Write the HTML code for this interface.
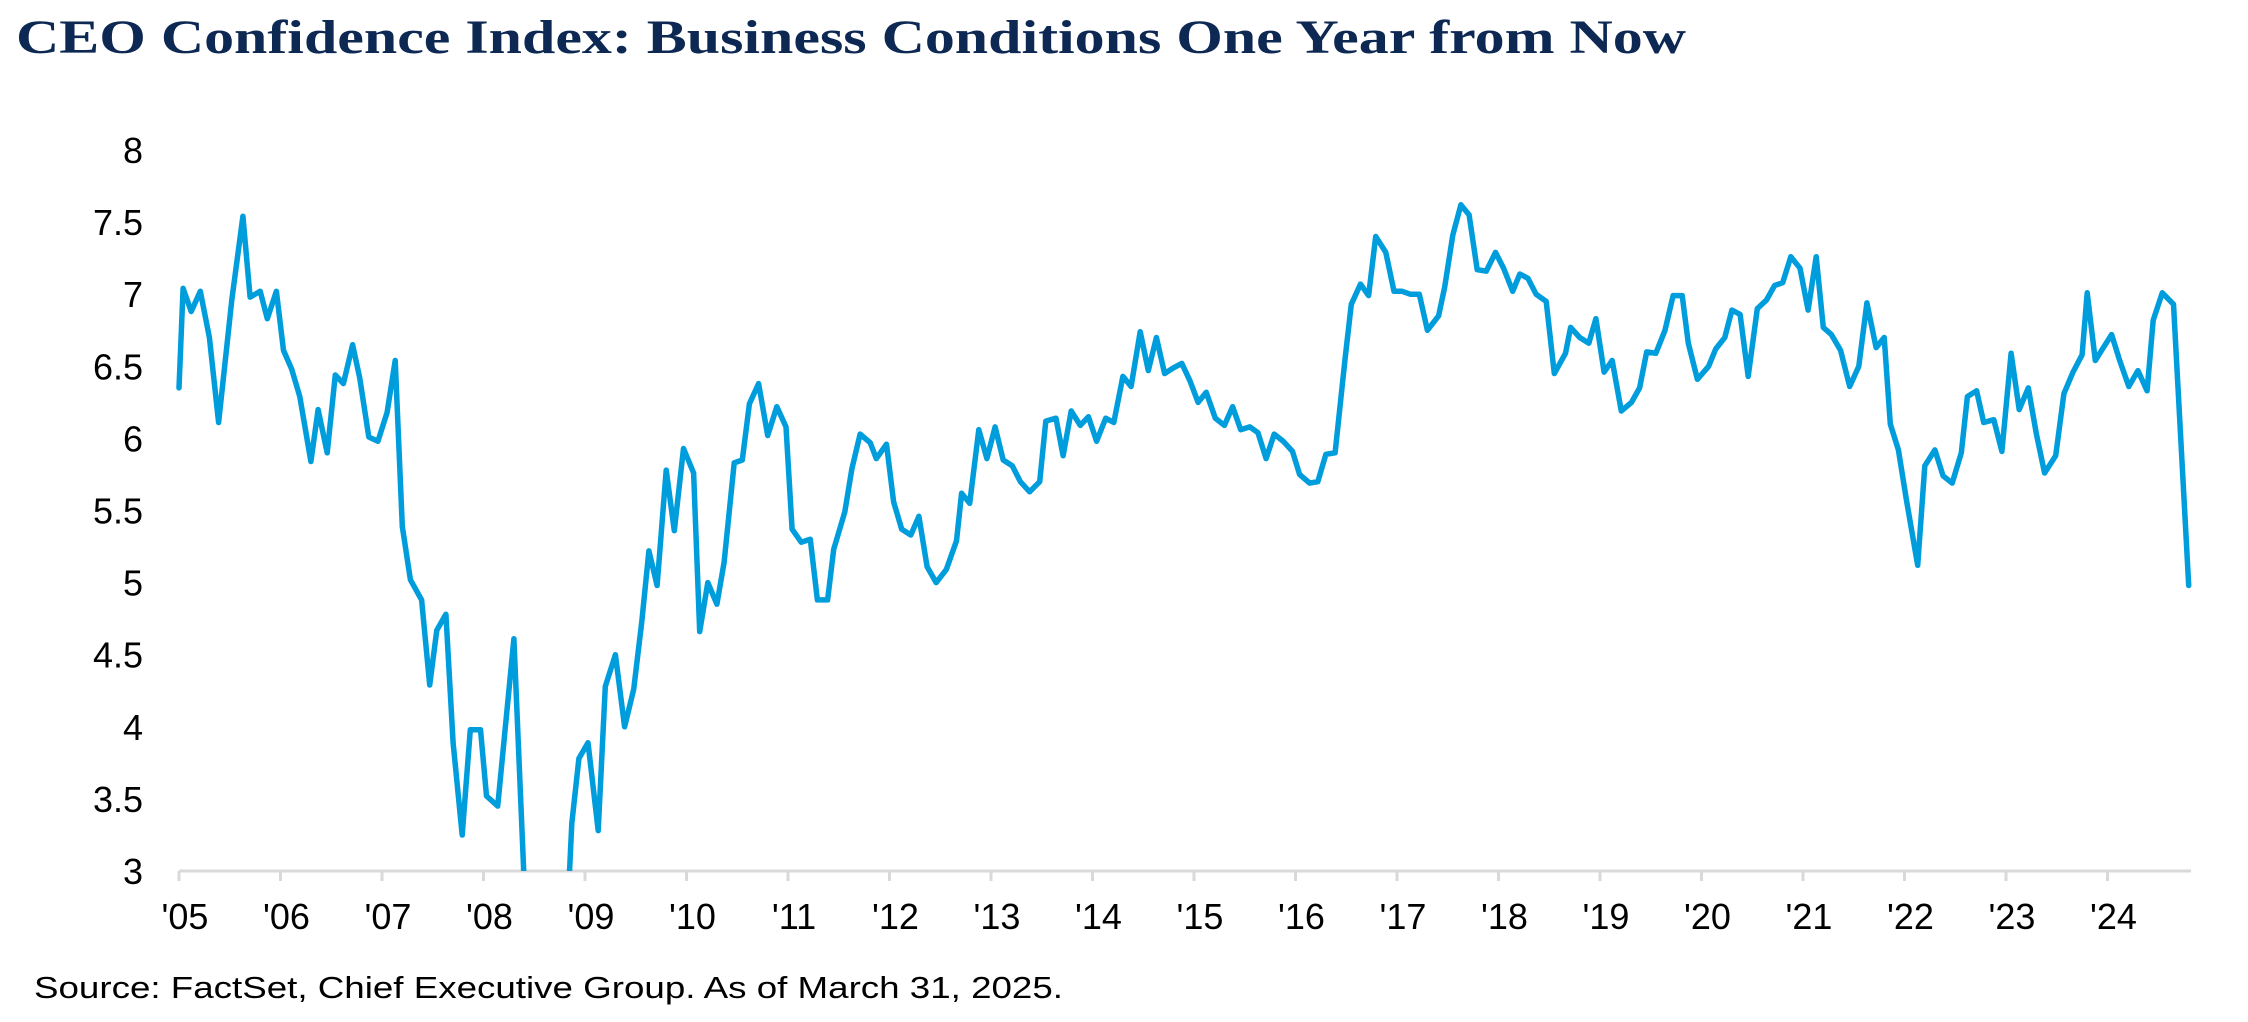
<!DOCTYPE html>
<html><head><meta charset="utf-8"><title>CEO Confidence Index</title>
<style>html,body{margin:0;padding:0;background:#fff;}svg{display:block;}</style></head>
<body>
<svg id="chart" width="2248" height="1022" viewBox="0 0 2248 1022" xmlns="http://www.w3.org/2000/svg">
<defs><clipPath id="plotclip"><rect x="170" y="100" width="2040" height="771"/></clipPath></defs>
<text x="16" y="53" font-family="Liberation Serif, serif" font-weight="bold" font-size="48" fill="#0c2853" textLength="1670" lengthAdjust="spacingAndGlyphs">CEO Confidence Index: Business Conditions One Year from Now</text>
<g id="yaxis"></g>
<g id="xaxis"></g>
<g clip-path="url(#plotclip)"><path id="series" fill="none" stroke="#009ddc" stroke-width="5.5" stroke-linejoin="round" stroke-linecap="round"/></g>
<text x="34" y="998" font-family="Liberation Sans, sans-serif" font-size="31" fill="#000" textLength="1029" lengthAdjust="spacingAndGlyphs">Source: FactSet, Chief Executive Group. As of March 31, 2025.</text>
</svg>
<script>
const dates = [2005.00,2005.04,2005.12,2005.21,2005.30,2005.39,2005.52,2005.63,2005.70,2005.80,2005.87,2005.96,2006.03,2006.11,2006.19,2006.30,2006.37,2006.46,2006.54,2006.62,2006.71,2006.78,2006.87,2006.96,2007.05,2007.13,2007.20,2007.28,2007.39,2007.47,2007.54,2007.63,2007.70,2007.79,2007.87,2007.97,2008.03,2008.14,2008.30,2008.45,2008.62,2008.78,2008.87,2008.94,2009.03,2009.13,2009.20,2009.30,2009.39,2009.48,2009.56,2009.63,2009.71,2009.80,2009.88,2009.97,2010.07,2010.13,2010.21,2010.30,2010.37,2010.47,2010.55,2010.62,2010.71,2010.80,2010.89,2010.98,2011.04,2011.13,2011.22,2011.29,2011.39,2011.45,2011.56,2011.63,2011.71,2011.81,2011.87,2011.97,2012.04,2012.12,2012.21,2012.29,2012.37,2012.46,2012.56,2012.66,2012.71,2012.79,2012.88,2012.96,2013.04,2013.12,2013.21,2013.29,2013.38,2013.48,2013.54,2013.64,2013.71,2013.79,2013.88,2013.96,2014.04,2014.13,2014.21,2014.30,2014.38,2014.47,2014.55,2014.63,2014.71,2014.80,2014.88,2014.96,2015.04,2015.12,2015.21,2015.30,2015.38,2015.46,2015.55,2015.63,2015.71,2015.79,2015.88,2015.97,2016.04,2016.14,2016.22,2016.30,2016.39,2016.49,2016.55,2016.64,2016.72,2016.79,2016.89,2016.97,2017.05,2017.13,2017.22,2017.30,2017.41,2017.47,2017.55,2017.63,2017.71,2017.79,2017.88,2017.97,2018.05,2018.14,2018.21,2018.29,2018.37,2018.47,2018.55,2018.66,2018.71,2018.80,2018.89,2018.96,2019.04,2019.12,2019.21,2019.31,2019.39,2019.46,2019.55,2019.64,2019.72,2019.81,2019.87,2019.96,2020.07,2020.14,2020.23,2020.30,2020.38,2020.46,2020.55,2020.64,2020.72,2020.80,2020.88,2020.97,2021.05,2021.13,2021.20,2021.28,2021.37,2021.46,2021.55,2021.63,2021.72,2021.80,2021.86,2021.94,2022.02,2022.13,2022.20,2022.30,2022.38,2022.47,2022.56,2022.62,2022.71,2022.78,2022.88,2022.96,2023.05,2023.13,2023.22,2023.30,2023.38,2023.49,2023.57,2023.66,2023.75,2023.80,2023.88,2023.96,2024.04,2024.12,2024.21,2024.30,2024.39,2024.45,2024.54,2024.65,2024.80];
const values = [6.35,7.04,6.88,7.02,6.70,6.11,6.96,7.54,6.98,7.02,6.83,7.02,6.61,6.48,6.29,5.84,6.20,5.90,6.44,6.38,6.65,6.42,6.01,5.98,6.18,6.54,5.39,5.02,4.88,4.29,4.67,4.78,3.89,3.25,3.98,3.98,3.52,3.45,4.61,2.1,2.2,2.0,3.33,3.78,3.89,3.28,4.28,4.50,4.00,4.26,4.73,5.22,4.98,5.78,5.36,5.93,5.76,4.66,5.00,4.85,5.14,5.83,5.85,6.24,6.38,6.02,6.22,6.08,5.37,5.28,5.30,4.88,4.88,5.23,5.49,5.79,6.03,5.97,5.86,5.96,5.56,5.37,5.33,5.46,5.11,5.00,5.09,5.29,5.62,5.55,6.06,5.86,6.08,5.85,5.81,5.70,5.63,5.70,6.12,6.14,5.88,6.19,6.09,6.15,5.98,6.14,6.11,6.43,6.36,6.74,6.47,6.70,6.45,6.49,6.52,6.40,6.25,6.32,6.14,6.09,6.22,6.06,6.08,6.04,5.86,6.03,5.98,5.91,5.75,5.69,5.70,5.89,5.90,6.56,6.93,7.07,6.99,7.40,7.29,7.02,7.02,7.00,7.00,6.75,6.85,7.05,7.41,7.62,7.55,7.17,7.16,7.29,7.18,7.02,7.14,7.11,7.00,6.95,6.45,6.59,6.77,6.70,6.66,6.83,6.46,6.54,6.19,6.25,6.35,6.60,6.59,6.75,6.99,6.99,6.66,6.41,6.50,6.62,6.70,6.89,6.86,6.43,6.90,6.96,7.06,7.08,7.26,7.18,6.89,7.26,6.77,6.72,6.61,6.36,6.50,6.94,6.63,6.70,6.10,5.92,5.57,5.12,5.81,5.92,5.74,5.69,5.90,6.29,6.33,6.11,6.13,5.91,6.59,6.20,6.35,6.03,5.76,5.88,6.31,6.46,6.58,7.01,6.54,6.63,6.72,6.54,6.36,6.47,6.33,6.82,7.01,6.93,4.98];
const yTicks = [3,3.5,4,4.5,5,5.5,6,6.5,7,7.5,8];
const yTickLabels = ["3","3.5","4","4.5","5","5.5","6","6.5","7","7.5","8"];
const xTickYears = [2005,2006,2007,2008,2009,2010,2011,2012,2013,2014,2015,2016,2017,2018,2019,2020,2021,2022,2023,2024];
const xTickLabels = ["'05","'06","'07","'08","'09","'10","'11","'12","'13","'14","'15","'16","'17","'18","'19","'20","'21","'22","'23","'24"];

const NS = "http://www.w3.org/2000/svg";
const X0 = 179, PXYR = 101.5, XEND = 2191;
const Y3 = 871, PXU = 144.2;
function xs(yr){ return X0 + (yr - 2005) * PXYR; }
function ys(v){ return Y3 - (v - 3) * PXU; }

const ya = document.getElementById('yaxis');
yTicks.forEach((t, i) => {
  const tx = document.createElementNS(NS, 'text');
  
  
  tx.setAttribute('x', 143);
  tx.setAttribute('y', ys(t) + 13);
  tx.setAttribute('text-anchor', 'end');
  tx.setAttribute('font-family', 'Liberation Sans, sans-serif');
  tx.setAttribute('font-size', '36');
  tx.textContent = yTickLabels[i];
  ya.appendChild(tx);
});

const xa = document.getElementById('xaxis');
const base = document.createElementNS(NS, 'line');


base.setAttribute('x1', X0); base.setAttribute('x2', XEND);
base.setAttribute('y1', Y3); base.setAttribute('y2', Y3);
base.setAttribute('stroke', '#d9d9d9'); base.setAttribute('stroke-width', '3');
xa.appendChild(base);
xTickYears.forEach((yr, i) => {
  const tk = document.createElementNS(NS, 'line');
  
  
  tk.setAttribute('x1', xs(yr)); tk.setAttribute('x2', xs(yr));
  tk.setAttribute('y1', Y3); tk.setAttribute('y2', Y3 + 10);
  tk.setAttribute('stroke', '#d9d9d9'); tk.setAttribute('stroke-width', '3');
  xa.appendChild(tk);
  const tx = document.createElementNS(NS, 'text');
  
  
  tx.setAttribute('x', xs(yr) + 6);
  tx.setAttribute('y', 929);
  tx.setAttribute('text-anchor', 'middle');
  tx.setAttribute('font-family', 'Liberation Sans, sans-serif');
  tx.setAttribute('font-size', '36');
  tx.textContent = xTickLabels[i];
  xa.appendChild(tx);
});

let d = '';
dates.forEach((yr, i) => { d += (i ? 'L' : 'M') + xs(yr).toFixed(1) + ' ' + ys(values[i]).toFixed(1); });
document.getElementById('series').setAttribute('d', d);
</script>
</body></html>
